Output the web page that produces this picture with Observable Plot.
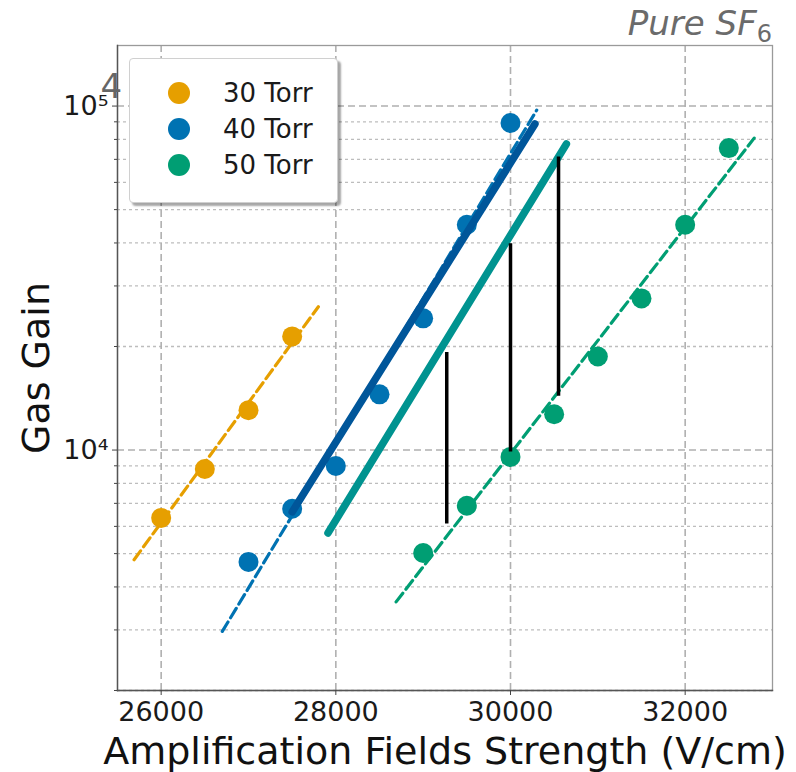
<!DOCTYPE html>
<html><head><meta charset="utf-8">
<script src="https://cdn.jsdelivr.net/npm/d3@7"></script>
<script src="https://cdn.jsdelivr.net/npm/@observablehq/plot@0.6"></script>
<style>
body{margin:0;background:#fff;font-family:"DejaVu Sans",sans-serif;}
#wrap{position:relative;width:796px;height:772px;overflow:hidden;}
#wrap svg{position:absolute;left:0;top:0;}
.title{position:absolute;right:24px;top:6px;font-size:34px;font-style:italic;color:#6b6b6b;line-height:34px;white-space:nowrap;}
.title sub{font-size:24px;font-style:normal;vertical-align:-7px;line-height:0;}
.legend{position:absolute;left:129px;top:58px;width:207px;height:143px;background:#fff;border:1px solid #d0d0d0;border-radius:4px;box-shadow:3px 3px 2px rgba(0,0,0,0.35);}
.item{position:absolute;left:0;height:30px;line-height:30px;font-size:26px;color:#1a1a1a;white-space:nowrap;}
.item .dot{position:absolute;left:38px;top:4px;width:22px;height:22px;border-radius:50%;}
.item .lab{position:absolute;left:93px;top:0;}
</style></head><body><div id="wrap"></div>
<script>
// ---- data ----
const seriesNames = ["30 Torr", "40 Torr", "50 Torr"];
const seriesColors = ["#E69F00", "#0072B2", "#009E73"];

const field30 = [26000, 26500, 27000, 27500];
const gain30  = [6350, 8810, 13060, 21400];
const field40 = [27000, 27500, 28000, 28500, 29000, 29500, 30000];
const gain40  = [4730, 6750, 8990, 14520, 24150, 45200, 89300];
const field50 = [29000, 29500, 30000, 30500, 31000, 31500, 32000, 32500];
const gain50  = [5020, 6890, 9550, 12710, 18700, 27600, 45200, 75500];

// dashed fit lines (end points)
const fit30x = [25690, 27800]; const fit30y = [4800, 26100];
const fit40x = [26700, 30300]; const fit40y = [2970, 97300];
const fit50x = [28690, 32790]; const fit50y = [3620, 80700];

// thick solid lines
const darkBlueX = [27500, 30280]; const darkBlueY = [6610, 88700];
const tealX = [27910, 30640];     const tealY = [5740, 77600];

// black vertical segments
const vX  = [29270, 30000, 30550];
const vY1 = [6100, 9870, 14340];
const vY2 = [19200, 39800, 71100];

// axes
const xTicks = [26000, 28000, 30000, 32000];
const yMajor = [10000, 100000];
const yMajorLabels = ["10\u2074", "10\u2075"];
const yMinor = [2000, 3000, 4000, 5000, 6000, 7000, 8000, 9000,
                20000, 30000, 40000, 50000, 60000, 70000, 80000, 90000];
const xLabel = "Amplification Fields Strength (V/cm)";
const yLabel = "Gas Gain";

// ---- tables ----
const pts = [
  ...field30.map((x, i) => ({x, y: gain30[i], s: seriesNames[0]})),
  ...field40.map((x, i) => ({x, y: gain40[i], s: seriesNames[1]})),
  ...field50.map((x, i) => ({x, y: gain50[i], s: seriesNames[2]}))
];
const fits = [
  ...fit30x.map((x, i) => ({x, y: fit30y[i], s: seriesNames[0]})),
  ...fit40x.map((x, i) => ({x, y: fit40y[i], s: seriesNames[1]})),
  ...fit50x.map((x, i) => ({x, y: fit50y[i], s: seriesNames[2]}))
];
const darkBlue = darkBlueX.map((x, i) => ({x, y: darkBlueY[i]}));
const teal = tealX.map((x, i) => ({x, y: tealY[i]}));
const verts = vX.map((x, i) => ({x, y1: vY1[i], y2: vY2[i]}));

const color = {domain: seriesNames, range: seriesColors};

const chart = Plot.plot({
  width: 796, height: 772,
  marginLeft: 117, marginRight: 24, marginTop: 45, marginBottom: 82,
  style: {fontFamily: "DejaVu Sans, sans-serif", background: "transparent"},
  x: {domain: [25500, 33000]},
  y: {type: "log", domain: [2000, 150000]},
  color,
  marks: [
    Plot.ruleY(yMinor, {stroke: "#bdbdbd", strokeWidth: 1.3, strokeDasharray: "3,3"}),
    Plot.ruleY(yMajor, {stroke: "#b0b0b0", strokeWidth: 1.6, strokeDasharray: "7,4"}),
    Plot.ruleX(xTicks, {stroke: "#b0b0b0", strokeWidth: 1.6, strokeDasharray: "7,4"}),
    Plot.frame({stroke: "#9a9a9a", strokeWidth: 1.3}),
    Plot.frame({anchor: "left", stroke: "#555", strokeWidth: 1.4}),
    Plot.frame({anchor: "bottom", stroke: "#555", strokeWidth: 1.4}),
    Plot.axisX({ticks: xTicks, tickFormat: d => String(d), tickSize: 5, tickPadding: 6,
      fontSize: 27, label: null, stroke: "#444", fill: "#1a1a1a"}),
    Plot.axisY({ticks: yMajor, tickFormat: d => yMajorLabels[yMajor.indexOf(d)], tickSize: 5,
      tickPadding: 4, fontSize: 27, label: null, stroke: "#444", fill: "#1a1a1a"}),
    Plot.axisY({ticks: yMinor, tickFormat: () => "", tickSize: 3, label: null, stroke: "#444"}),
    Plot.line(fits, {x: "x", y: "y", z: "s", stroke: "s", strokeWidth: 3.2, strokeDasharray: "11,5"}),
    Plot.dot(pts, {x: "x", y: "y", fill: "s", r: 10, stroke: "none"}),
    Plot.line(darkBlue, {x: "x", y: "y", stroke: "#00569A", strokeWidth: 7.5}),
    Plot.line(teal, {x: "x", y: "y", stroke: "#009390", strokeWidth: 7.5}),
    Plot.ruleX(verts, {x: "x", y1: "y1", y2: "y2", stroke: "#000", strokeWidth: 3.5}),
    Plot.text([xLabel], {frameAnchor: "bottom", dy: 73, textAnchor: "middle", lineAnchor: "bottom", fontSize: 38, fill: "#111"}),
    Plot.text([yLabel], {frameAnchor: "left", dx: -69, textAnchor: "middle", rotate: -90, lineAnchor: "bottom", fontSize: 38, fill: "#111"}),
    Plot.text(["4"], {frameAnchor: "top-left", dx: -17, dy: 52, textAnchor: "start", lineAnchor: "bottom", fontSize: 34, fill: "#666"})
  ]
});

const wrap = document.getElementById("wrap");
wrap.appendChild(chart);

const title = document.createElement("div");
title.className = "title";
title.innerHTML = "Pure SF<sub>6</sub>";
wrap.appendChild(title);

const legend = document.createElement("div");
legend.className = "legend";
seriesNames.forEach((name, i) => {
  const it = document.createElement("div");
  it.className = "item";
  it.style.top = (19 + i * 36) + "px";
  const d = document.createElement("span");
  d.className = "dot";
  d.style.background = seriesColors[i];
  const l = document.createElement("span");
  l.className = "lab";
  l.textContent = name;
  it.appendChild(d); it.appendChild(l);
  legend.appendChild(it);
});
wrap.appendChild(legend);
</script>
</body></html>
